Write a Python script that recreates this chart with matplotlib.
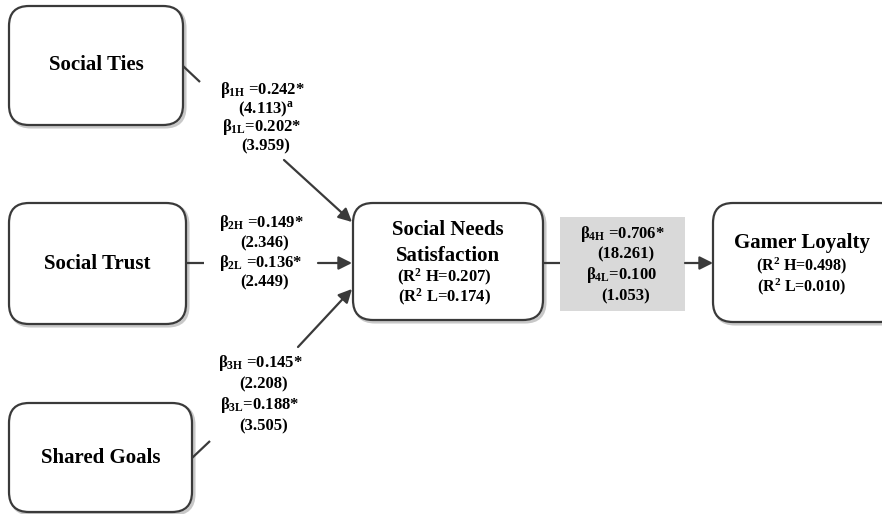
import matplotlib.pyplot as plt
from matplotlib.patches import FancyBboxPatch, Rectangle, FancyArrowPatch

plt.rcParams['font.family'] = ['Liberation Serif', 'DejaVu Serif']
plt.rcParams['mathtext.fontset'] = 'custom'
plt.rcParams['mathtext.rm'] = 'Liberation Serif:bold'
plt.rcParams['mathtext.bf'] = 'Liberation Serif:bold'
plt.rcParams['mathtext.it'] = 'Liberation Serif:bold'

# path model results (H = high group, L = low group)
predictors = ["Social Ties", "Social Trust", "Shared Goals"]
mediator = ["Social Needs", "Satisfaction"]
outcome = "Gamer Loyalty"
path_ids = ["1", "2", "3", "4"]
beta_high = [0.242, 0.149, 0.145, 0.706]
t_high = [4.113, 2.346, 2.208, 18.261]
beta_low = [0.202, 0.136, 0.188, 0.100]
t_low = [3.959, 2.449, 3.505, 1.053]
sig_high = [True, True, True, True]
sig_low = [True, True, True, False]
r2_high = [0.207, 0.498]
r2_low = [0.174, 0.010]

EDGE = '#3a3a3a'

fig = plt.figure(figsize=(8.82, 5.14), dpi=100)
ax = fig.add_axes([0, 0, 1, 1])
ax.set_xlim(0, 882)
ax.set_ylim(514, 0)
ax.axis('off')


def rbox(x0, y0, x1, y1, r=20):
    # soft shadow first, then the box on top
    sh = FancyBboxPatch((x0 + 2, y0 + 2), x1 - x0, y1 - y0,
                        boxstyle=f"round,pad=0,rounding_size={r}",
                        fc='none', ec='#c8c8c8', lw=2.2, zorder=1)
    ax.add_patch(sh)
    b = FancyBboxPatch((x0, y0), x1 - x0, y1 - y0,
                       boxstyle=f"round,pad=0,rounding_size={r}",
                       fc='white', ec=EDGE, lw=1.6, zorder=2)
    ax.add_patch(b)


def seg(p0, p1, arrow=False):
    if arrow:
        a = FancyArrowPatch(p0, p1, arrowstyle='-|>', mutation_scale=20,
                            color=EDGE, lw=1.6, shrinkA=0, shrinkB=0, zorder=3)
        ax.add_patch(a)
    else:
        ax.plot([p0[0], p1[0]], [p0[1], p1[1]], color=EDGE, lw=1.6,
                solid_capstyle='butt', zorder=3)


TITLE = dict(fontsize=15, fontweight='bold', ha='center', va='center', zorder=4)
SMALL = dict(fontsize=11.5, fontweight='bold', ha='center', va='center', zorder=4)
LAB = dict(fontsize=12, fontweight='bold', ha='center', va='center', zorder=4)

# predictor boxes
pred_boxes = [(9, 6, 183, 125), (9, 203, 186, 324), (9, 403, 192, 512)]
pred_text_y = [65, 264, 458]
for (x0, y0, x1, y1), name, ty in zip(pred_boxes, predictors, pred_text_y):
    rbox(x0, y0, x1, y1)
    ax.text((x0 + x1) / 2, ty, name, **TITLE)

# mediator box
rbox(353, 203, 543, 320)
ax.text(448, 230, mediator[0], **TITLE)
ax.text(448, 256, mediator[1], **TITLE)
ax.text(444, 277, f"(R$^{{2}}$ H={r2_high[0]:.3f})", **dict(SMALL, fontsize=12))
ax.text(444, 297, f"(R$^{{2}}$ L={r2_low[0]:.3f})", **dict(SMALL, fontsize=12))

# outcome box (runs off the right edge)
rbox(713, 203, 900, 322)
ax.text(802, 243, outcome, **TITLE)
ax.text(802, 266, f"(R$^{{2}}$ H={r2_high[1]:.3f})", **SMALL)
ax.text(802, 287, f"(R$^{{2}}$ L={r2_low[1]:.3f})", **SMALL)

# shaded box behind the mediator -> outcome coefficients
ax.add_patch(Rectangle((560, 217), 125, 94, fc='#d9d9d9', ec='none', zorder=1))

# paths, broken where the coefficient labels sit
seg((183, 66), (200, 82))
seg((284, 160), (352, 222), arrow=True)
seg((186, 263), (204, 263))
seg((318, 263), (352, 263), arrow=True)
seg((192, 458), (210, 441))
seg((298, 347), (352, 289), arrow=True)
seg((543, 263), (560, 263))
seg((685, 263), (713, 263), arrow=True)


def coef_block(i, cx, ys, h_sep=" ", l_sep="", sup=""):
    star_h = "*" if sig_high[i] else ""
    star_l = "*" if sig_low[i] else ""
    k = path_ids[i]
    ax.text(cx, ys[0], f"β$_{{{k}H}}${h_sep}={beta_high[i]:.3f}{star_h}", **LAB)
    ax.text(cx + 4, ys[1], f"({t_high[i]:.3f}){sup}", **LAB)
    ax.text(cx, ys[2], f"β$_{{{k}L}}${l_sep}={beta_low[i]:.3f}{star_l}", **LAB)
    ax.text(cx + 4, ys[3], f"({t_low[i]:.3f})", **LAB)


coef_block(0, 262, [90, 109, 127, 146], sup="$^{a}$")
coef_block(1, 261, [223, 243, 263, 282], l_sep=" ")
coef_block(2, 260, [363, 384, 405, 426])
coef_block(3, 622, [234, 254, 275, 296])

fig.savefig('out.png', dpi=100)
